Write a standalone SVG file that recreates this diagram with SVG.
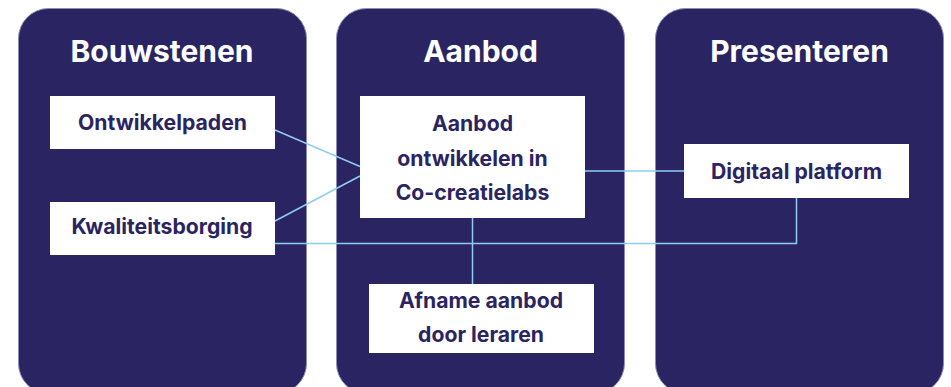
<svg xmlns="http://www.w3.org/2000/svg" width="951" height="387" viewBox="0 0 951 387">
<style>
.panel{fill:#2a2562;stroke:#8e8cb4;stroke-width:1}
.box{fill:#ffffff}
.title{font-family:Inter,"Liberation Sans",sans-serif;font-weight:700;font-size:30px;fill:#ffffff;text-anchor:middle}
.lbl{font-family:Inter,"Liberation Sans",sans-serif;font-weight:700;font-size:21.2px;fill:#2a2562;text-anchor:middle}
.conn{fill:none;stroke:#8fcdf0;stroke-width:1.5}
</style>
<rect width="951" height="387" fill="#ffffff"/>
<g id="panel-bouwstenen">
<rect class="panel" x="18.5" y="8.5" width="288" height="385" rx="30"/>
<text class="title" x="162" y="62">Bouwstenen</text>
</g>
<g id="panel-aanbod">
<rect class="panel" x="336.5" y="8.5" width="288" height="385" rx="30"/>
<text class="title" x="480.5" y="62">Aanbod</text>
</g>
<g id="panel-presenteren">
<rect class="panel" x="655.5" y="8.5" width="288" height="385" rx="30"/>
<text class="title" x="799.5" y="62">Presenteren</text>
</g>
<g id="connectors">
<path class="conn" d="M275 130 L360 166.5"/>
<path class="conn" d="M275 221 L360 176"/>
<path class="conn" d="M275 243.5 H796.5 V198"/>
<path class="conn" d="M585 171 H684"/>
<path class="conn" d="M472.5 218 V284"/>
</g>
<g id="node-ontwikkelpaden">
<rect class="box" x="50" y="96" width="225" height="53"/>
<text class="lbl" x="162.5" y="130">Ontwikkelpaden</text>
</g>
<g id="node-kwaliteitsborging">
<rect class="box" x="50" y="202" width="225" height="53"/>
<text class="lbl" x="162" y="234">Kwaliteitsborging</text>
</g>
<g id="node-cocreatielabs">
<rect class="box" x="360" y="96" width="225" height="122"/>
<text class="lbl" x="472.5" y="131">Aanbod</text>
<text class="lbl" x="472.5" y="165.5">ontwikkelen in</text>
<text class="lbl" x="472.5" y="200">Co-creatielabs</text>
</g>
<g id="node-afname">
<rect class="box" x="369" y="284" width="225" height="69"/>
<text class="lbl" x="481" y="308">Afname aanbod</text>
<text class="lbl" x="481" y="342">door leraren</text>
</g>
<g id="node-digitaal">
<rect class="box" x="684" y="144" width="225" height="54"/>
<text class="lbl" x="796.5" y="179">Digitaal platform</text>
</g>
</svg>
